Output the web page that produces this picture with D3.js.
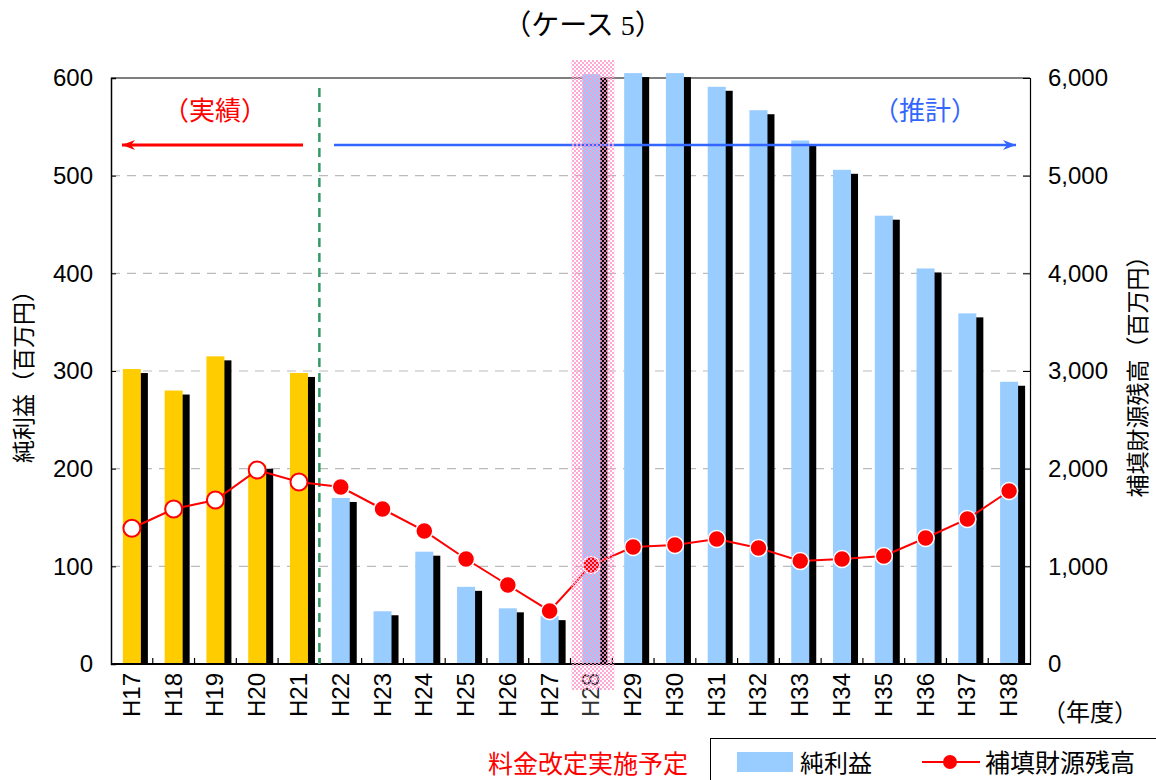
<!DOCTYPE html>
<html><head><meta charset="utf-8">
<script src="https://cdn.jsdelivr.net/npm/d3@7"></script>
<style>body{margin:0;background:#fff}svg{display:block}</style>
</head><body><svg id="c" width="1156" height="780"></svg>
<script>
const categories = ["H17","H18","H19","H20","H21","H22","H23","H24","H25","H26","H27","H28","H29","H30","H31","H32","H33","H34","H35","H36","H37","H38"];
const netProfit = [302,280,315,204,298,170,54,115,79,57,49,604,605,605,591,567,536,506,459,405,359,289];
const reserve = [1390,1587,1679,1986,1863,1812,1587,1362,1075,809,543,1014,1198,1218,1280,1188,1055,1075,1106,1290,1485,1771];
const actualCount = 5; // H17-H21 are actual values
const leftTicks = [0,100,200,300,400,500,600];
const rightTicks = [0,1000,2000,3000,4000,5000,6000];
const highlightCat = "H28";

const svg = d3.select("#c");
const L=111, R=1030, T=78, B=664;
const jp = "'Noto Sans CJK JP', sans-serif";
const lat = "'Liberation Sans', Arial, sans-serif";

const x = d3.scaleBand().domain(categories).range([L,R]);
const y = d3.scaleLinear().domain([0,600]).range([B,T]);
const y2 = d3.scaleLinear().domain([0,6000]).range([B,T]);

const defs = svg.append("defs");
const pat = defs.append("pattern").attr("id","pink").attr("width",4).attr("height",4).attr("patternUnits","userSpaceOnUse");
pat.append("rect").attr("width",2).attr("height",2).attr("fill","#ff99cc").attr("opacity",0.85);
pat.append("rect").attr("x",2).attr("y",2).attr("width",2).attr("height",2).attr("fill","#ff99cc").attr("opacity",0.85);
const pat2 = defs.append("pattern").attr("id","redhatch").attr("width",4).attr("height",4).attr("patternUnits","userSpaceOnUse");
pat2.append("rect").attr("width",4).attr("height",4).attr("fill","#ff0000");
pat2.append("rect").attr("width",2).attr("height",2).attr("fill","#ff8080");
pat2.append("rect").attr("x",2).attr("y",2).attr("width",2).attr("height",2).attr("fill","#ff8080");
defs.append("clipPath").attr("id","plotclip").append("rect").attr("x",L).attr("y",0).attr("width",R-L).attr("height",B);

// title
svg.append("text").attr("x",583).attr("y",35).attr("text-anchor","middle")
  .attr("font-family","'Liberation Serif', 'Noto Sans CJK JP', serif").attr("font-size",28).attr("fill","#000").text("（ケース 5）");

// gridlines
svg.append("g").selectAll("line").data(leftTicks.filter(d=>d>0 && d<600)).join("line")
  .attr("x1",L).attr("x2",R).attr("y1",d=>y(d)).attr("y2",d=>y(d))
  .attr("stroke","#bbbbbb").attr("stroke-width",1.2).attr("stroke-dasharray","9,7");
// top frame
svg.append("line").attr("x1",L).attr("x2",R).attr("y1",T).attr("y2",T).attr("stroke","#555").attr("stroke-width",1.5);

// bars with shadows
const bw = 18;
const bars = svg.append("g").attr("clip-path","url(#plotclip)");
bars.selectAll("rect.sh").data(categories).join("rect").attr("class","sh")
  .attr("x",(d)=>x(d)+x.bandwidth()/2-bw/2+7)
  .attr("y",(d,i)=>y(netProfit[i])+4)
  .attr("width",bw)
  .attr("height",(d,i)=>Math.max(0,B-y(netProfit[i])-4))
  .attr("fill","#000");
svg.append("g").selectAll("rect.b").data(categories).join("rect").attr("class","b")
  .attr("x",(d)=>x(d)+x.bandwidth()/2-bw/2)
  .attr("y",(d,i)=>y(netProfit[i]))
  .attr("width",bw)
  .attr("height",(d,i)=>B-y(netProfit[i]))
  .attr("fill",(d,i)=>i<actualCount?"#ffcc00":"#99ccff");

// axes
const gl = svg.append("g").attr("transform",`translate(${L},0)`)
  .call(d3.axisLeft(y).tickValues(leftTicks).tickSize(-5).tickPadding(18));
gl.selectAll("text").attr("font-family",lat).attr("font-size",24).attr("fill","#000");
gl.select(".domain").attr("stroke","#000").attr("stroke-width",1.5);
gl.selectAll(".tick line").attr("stroke","#000");

const gr = svg.append("g").attr("transform",`translate(${R},0)`)
  .call(d3.axisRight(y2).tickValues(rightTicks).tickSize(-7).tickPadding(18).tickFormat(d3.format(",")));
gr.selectAll("text").attr("font-family",lat).attr("font-size",24).attr("fill","#000");
gr.select(".domain").attr("stroke","#000").attr("stroke-width",1.2);
gr.selectAll(".tick line").attr("stroke","#000");

// x axis
svg.append("line").attr("x1",L).attr("x2",R).attr("y1",B).attr("y2",B).attr("stroke","#000").attr("stroke-width",2);
svg.append("g").selectAll("line").data(categories.slice(1)).join("line")
  .attr("x1",d=>x(d)).attr("x2",d=>x(d)).attr("y1",B).attr("y2",B-6).attr("stroke","#000").attr("stroke-width",1.2);
svg.append("g").selectAll("text").data(categories).join("text")
  .attr("transform",d=>`translate(${x(d)+x.bandwidth()/2+8},673) rotate(-90)`)
  .attr("text-anchor","end").attr("font-family",lat).attr("font-size",24)
  .attr("fill",d=>d===highlightCat?"#333":"#000").text(d=>d);
svg.append("text").attr("x",1090).attr("y",721).attr("text-anchor","middle").attr("font-family",jp).attr("font-size",24).text("（年度）");

// axis titles
svg.append("text").attr("transform","translate(32,371) rotate(-90)").attr("text-anchor","middle")
  .attr("font-family",jp).attr("font-size",23).text("純利益（百万円）");
svg.append("text").attr("transform","translate(1146,371) rotate(-90)").attr("text-anchor","middle")
  .attr("font-family",jp).attr("font-size",23).text("補填財源残高（百万円）");

// divider
const divX = x("H22");
svg.append("line").attr("x1",divX-0.5).attr("x2",divX-0.5).attr("y1",88).attr("y2",B)
  .attr("stroke","#339966").attr("stroke-width",2.5).attr("stroke-dasharray","9,6");

// arrows
function arrow(x1,x2,yy,col,w){
  svg.append("line").attr("x1",x1).attr("x2",x2).attr("y1",yy).attr("y2",yy).attr("stroke",col).attr("stroke-width",w);
  const dir = x2<x1?1:-1;
  svg.append("path").attr("d",`M${x2},${yy} L${x2+dir*13},${yy-5} L${x2+dir*9},${yy} L${x2+dir*13},${yy+5} Z`).attr("fill",col);
}
arrow(303,122,145,"#ff0000",3);
arrow(334,1016,145,"#3366ff",2.5);
svg.append("text").attr("x",215).attr("y",120).attr("text-anchor","middle").attr("font-family",jp).attr("font-size",26).attr("fill","#ff0000").text("（実績）");
svg.append("text").attr("x",925).attr("y",120).attr("text-anchor","middle").attr("font-family",jp).attr("font-size",26).attr("fill","#3366ff").text("（推計）");

// line
const cx = d=>x(d)+x.bandwidth()/2;
svg.append("path").datum(reserve).attr("fill","none").attr("stroke","#ff0000").attr("stroke-width",2)
  .attr("d",d3.line().x((d,i)=>cx(categories[i])).y(d=>y2(d)));
svg.append("g").selectAll("circle").data(reserve).join("circle")
  .attr("cx",(d,i)=>cx(categories[i])).attr("cy",d=>y2(d)).attr("r",8.5)
  .attr("fill",(d,i)=>i<actualCount?"#fff":(categories[i]===highlightCat?"url(#redhatch)":"#ff0000"))
  .attr("stroke",(d,i)=>i<actualCount?"#ff0000":"#fff").attr("stroke-width",(d,i)=>i<actualCount?2:1.5);

// highlight band
const hx = x(highlightCat);
svg.append("rect").attr("x",hx+1).attr("y",60).attr("width",x.bandwidth()+1).attr("height",630).attr("fill","url(#pink)");
svg.append("text").attr("x",588).attr("y",773).attr("text-anchor","middle").attr("font-family",jp).attr("font-size",25).attr("fill","#ff0000").text("料金改定実施予定");

// legend
svg.append("rect").attr("x",710.5).attr("y",738.5).attr("width",460).attr("height",60).attr("fill","#fff").attr("stroke","#000").attr("stroke-width",1);
svg.append("rect").attr("x",737).attr("y",752).attr("width",56).attr("height",20).attr("fill","#99ccff");
svg.append("text").attr("x",800).attr("y",772).attr("font-family",jp).attr("font-size",24).text("純利益");
svg.append("line").attr("x1",922).attr("x2",980).attr("y1",762).attr("y2",762).attr("stroke","#ff0000").attr("stroke-width",2);
svg.append("circle").attr("cx",950).attr("cy",762).attr("r",7).attr("fill","#ff0000");
svg.append("text").attr("x",985).attr("y",772).attr("font-family",jp).attr("font-size",25).text("補填財源残高");
</script></body></html>
